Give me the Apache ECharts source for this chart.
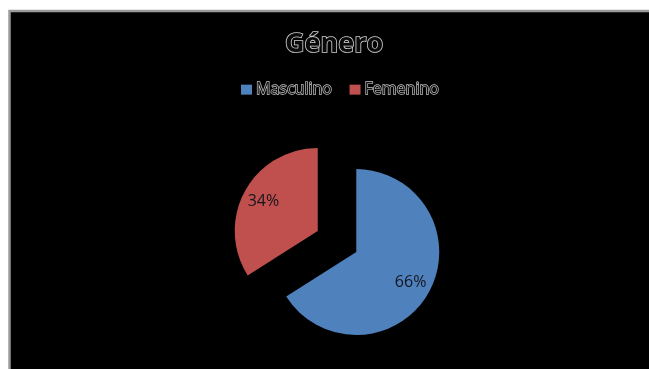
<!DOCTYPE html>
<html>
<head>
<meta charset="utf-8">
<script src="https://cdn.jsdelivr.net/npm/echarts@6/dist/echarts.min.js"></script>
<style>
html,body{margin:0;padding:0;background:#fff;overflow:hidden;}
#chart{width:649px;height:369px;}
</style>
</head>
<body>
<div id="chart"></div>
<script>
const titleText = 'Género';
const categories = ['Masculino', 'Femenino'];
const values = [66, 34];
const colors = ['#4f81bd', '#c0504d'];

const chart = echarts.init(document.getElementById('chart'), null, {renderer: 'canvas'});
const center = [337, 241.5];
const offset = 22;
const mainData = categories.map((c, i) => ({name: c, value: values[i], selected: true, itemStyle: {color: colors[i]}}));
const labelData = categories.map((c, i) => ({name: c, value: values[i], selected: true}));

chart.setOption({
  backgroundColor: '#fff',
  animation: false,
  graphic: [{
    type: 'rect', z: -10, silent: true,
    shape: {x: 9.5, y: 11, width: 700, height: 400},
    style: {fill: '#000', stroke: '#9a9a9a', lineWidth: 2.5}
  }],
  title: {
    text: titleText, left: 280, top: 26,
    textStyle: {fontFamily: 'Open Sans', fontSize: 27, fontWeight: 'bold', color: '#0a0a0a', textBorderColor: '#d0d0d0', textBorderWidth: 1.6}
  },
  legend: {
    data: categories.map((c, i) => ({name: c, icon: 'rect', itemStyle: {color: colors[i]}})),
    left: 236, top: 76, itemWidth: 11, itemHeight: 10, itemGap: 17,
    selectedMode: false,
    textStyle: {fontFamily: 'Open Sans', fontSize: 16, color: '#111', textBorderColor: '#c8c8c8', textBorderWidth: 1.3, padding: [0, 0, 0, -1]}
  },
  series: [{
    type: 'pie', center: center, radius: 83, startAngle: 90, clockwise: true,
    selectedMode: 'multiple', selectedOffset: offset,
    label: {show: false}, labelLine: {show: false},
    emphasis: {disabled: true},
    itemStyle: {borderWidth: 0},
    data: mainData
  }, {
    type: 'pie', center: center, radius: 118, startAngle: 90, clockwise: true,
    selectedMode: 'multiple', selectedOffset: offset, silent: true, z: 5,
    itemStyle: {color: 'rgba(0,0,0,0)', borderWidth: 0},
    emphasis: {disabled: true},
    label: {show: true, position: 'inside', formatter: '{d}%', fontFamily: 'Open Sans', fontSize: 16, color: '#151520'},
    labelLine: {show: false},
    data: labelData
  }]
});
</script>
</body>
</html>
